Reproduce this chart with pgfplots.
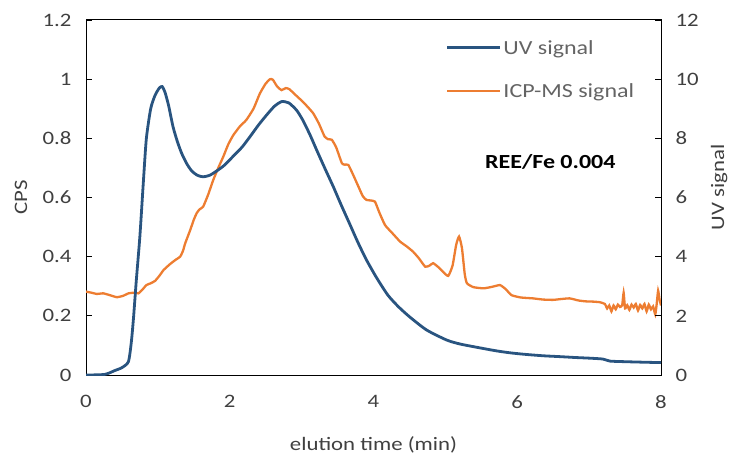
\documentclass[border=0pt]{standalone}
\usepackage{fontspec}
\setmainfont{Carlito}[FakeStretch=1.2]
\usepackage{pgfplots}
\pgfplotsset{compat=1.18}
\definecolor{uvblue}{RGB}{41,84,128}
\definecolor{icporange}{RGB}{237,125,49}
\definecolor{txtgray}{RGB}{64,64,64}
\definecolor{leggray}{RGB}{100,100,100}

\pgfplotstableread{
x y
0 0.282
0.08 0.278
0.15 0.274
0.24 0.276
0.33 0.270
0.43 0.263
0.52 0.268
0.59 0.276
0.66 0.278
0.73 0.276
0.79 0.290
0.84 0.304
0.90 0.310
0.96 0.318
1.02 0.335
1.08 0.355
1.17 0.375
1.25 0.390
1.31 0.400
1.35 0.420
1.38 0.445
1.45 0.490
1.50 0.525
1.54 0.547
1.58 0.560
1.63 0.569
1.70 0.610
1.77 0.659
1.84 0.700
1.91 0.738
1.98 0.780
2.05 0.811
2.14 0.840
2.23 0.862
2.33 0.900
2.42 0.952
2.50 0.985
2.56 1.000
2.60 0.998
2.66 0.975
2.72 0.963
2.78 0.970
2.83 0.966
2.90 0.950
2.98 0.932
3.07 0.910
3.16 0.885
3.24 0.850
3.32 0.806
3.37 0.797
3.42 0.795
3.48 0.770
3.56 0.716
3.60 0.711
3.65 0.710
3.72 0.675
3.79 0.637
3.85 0.605
3.90 0.592
3.96 0.590
4.02 0.586
4.08 0.550
4.16 0.507
4.26 0.480
4.37 0.451
4.46 0.435
4.55 0.417
4.63 0.395
4.72 0.366
4.78 0.370
4.83 0.378
4.90 0.365
4.97 0.348
5.04 0.335
5.10 0.370
5.15 0.440
5.19 0.468
5.23 0.430
5.27 0.340
5.30 0.310
5.39 0.297
5.53 0.293
5.65 0.298
5.76 0.304
5.84 0.290
5.92 0.270
6.05 0.262
6.22 0.259
6.36 0.255
6.50 0.254
6.62 0.257
6.73 0.259
6.85 0.252
6.95 0.249
7.06 0.248
7.15 0.246
7.22 0.240
7.25 0.225
7.28 0.235
7.31 0.215
7.34 0.235
7.37 0.222
7.40 0.238
7.43 0.230
7.46 0.236
7.48 0.278
7.50 0.225
7.53 0.236
7.56 0.220
7.59 0.238
7.62 0.228
7.65 0.240
7.68 0.218
7.71 0.237
7.74 0.225
7.77 0.240
7.80 0.215
7.83 0.238
7.86 0.222
7.89 0.232
7.92 0.205
7.94 0.240
7.96 0.285
7.98 0.255
8.00 0.235
}\icptable

\pgfplotstableread{
x y
0 0
0.26 0.02
0.40 0.15
0.50 0.25
0.59 0.45
0.63 1.1
0.66 1.9
0.70 3.2
0.75 4.7
0.80 6.6
0.84 8.0
0.90 9.0
0.96 9.45
1.02 9.7
1.06 9.75
1.10 9.55
1.15 9.1
1.21 8.4
1.27 7.9
1.33 7.5
1.40 7.15
1.47 6.9
1.55 6.75
1.63 6.70
1.72 6.75
1.82 6.9
1.93 7.1
2.05 7.4
2.17 7.7
2.28 8.05
2.40 8.45
2.51 8.78
2.62 9.08
2.72 9.24
2.82 9.2
2.93 8.95
3.02 8.6
3.12 8.1
3.21 7.6
3.33 6.95
3.44 6.37
3.55 5.75
3.67 5.1
3.78 4.5
3.90 3.9
4.04 3.3
4.20 2.7
4.35 2.3
4.51 1.95
4.74 1.52
5.02 1.18
5.20 1.05
5.43 0.94
5.70 0.82
5.90 0.75
6.10 0.70
6.36 0.65
6.60 0.62
6.82 0.59
7.00 0.57
7.19 0.54
7.29 0.47
7.50 0.45
7.80 0.43
8.00 0.42
}\uvtable

\begin{document}
\begin{tikzpicture}
\pgfplotsset{
  every axis/.append style={
    font=\fontsize{19bp}{22bp}\selectfont,
    scale only axis, width=575bp, height=355bp,
    xmin=0, xmax=8,
    /pgf/number format/assume math mode=true,
    tick align=inside, major tick length=6bp,
    tick style={black, line width=0.8bp},
    axis line style={black, line width=1bp},
    ticklabel style={text=txtgray},
    label style={text=txtgray},
  }
}
\begin{axis}[name=L,
  ymin=0, ymax=1.2,
  xtick={0,2,4,6,8},
  xtick style={draw=none},
  ytick={0,0.2,0.4,0.6,0.8,1,1.2},
  ytick pos=left,
  yticklabel style={/pgf/number format/fixed, xshift=-11bp},
  xticklabel style={yshift=-17bp},
  xlabel={elution time (min)},
  xlabel style={at={(axis description cs:0.5,-0.197)}, anchor=center},
  ylabel={CPS},
  ylabel style={at={(axis description cs:-0.113,0.5)}, anchor=center},
  legend style={draw=none, fill=none, at={(rel axis cs:0.62,0.955)}, anchor=north west,
    font=\fontsize{20bp}{24bp}\selectfont, text=leggray, row sep=24bp,
    /tikz/every even column/.append style={column sep=0bp}},
  legend cell align=left,
  legend image code/.code={\draw[#1] (0bp,0bp) -- (53bp,0bp);},
]
\addlegendimage{uvblue, line width=2.8bp}
\addlegendentry{UV signal}
\addplot[icporange, line width=2.3bp, smooth, tension=0.3] table[x=x,y=y] {\icptable};
\addlegendentry{ICP-MS signal}
\node[font=\fontsize{20bp}{24bp}\selectfont\bfseries, text=black] at (axis cs:6.46,0.72) {REE/Fe 0.004};
\end{axis}
\begin{axis}[
  ymin=0, ymax=12,
  axis x line=none,
  axis y line*=right,
  ytick={0,2,4,6,8,10,12},
  yticklabel style={xshift=11bp},
  ylabel={UV signal},
  ylabel style={at={(axis description cs:1.101,0.528)}, anchor=center},
]
\addplot[uvblue, line width=2.8bp, smooth, tension=0.4] table[x=x,y=y] {\uvtable};
\end{axis}
\pgfresetboundingbox
\path[use as bounding box] ([xshift=-86bp,yshift=-79bp]L.south west) rectangle ([xshift=71bp,yshift=20bp]L.north east);
\end{tikzpicture}
\end{document}
